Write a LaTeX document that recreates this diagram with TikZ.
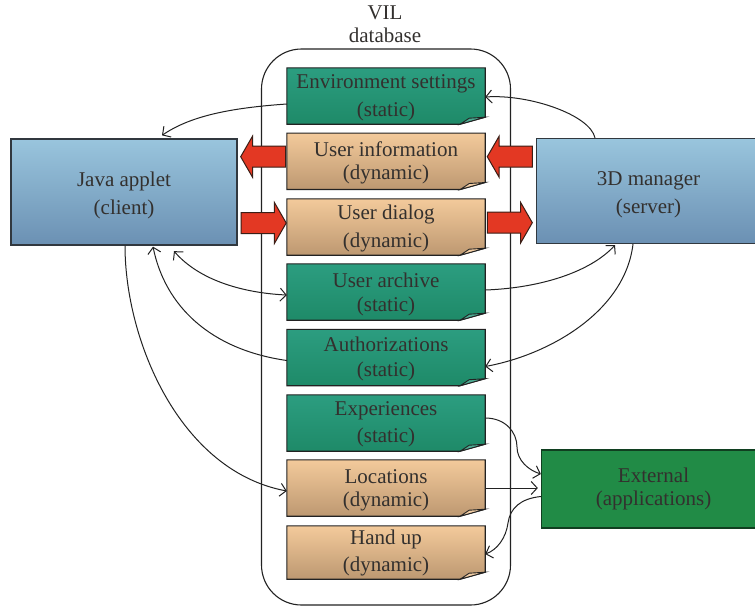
\documentclass[tikz,border=0pt]{standalone}
\usepackage{fontspec}
\setmainfont{Liberation Serif}
\usetikzlibrary{arrows.meta,shapes.arrows,backgrounds}
\definecolor{inkc}{HTML}{33302E}
\definecolor{edgec}{HTML}{222222}
\definecolor{greentop}{HTML}{2C9D80}
\definecolor{greenbot}{HTML}{1E8A68}
\definecolor{orangetop}{HTML}{F3CA9B}
\definecolor{orangebot}{HTML}{BD9871}
\definecolor{bluetop}{HTML}{99C5DD}
\definecolor{bluebot}{HTML}{6B90B3}
\definecolor{extfill}{HTML}{218B46}
\definecolor{extedge}{HTML}{103F20}
\definecolor{redfill}{HTML}{E33823}
\definecolor{rededge}{HTML}{3A1E16}
\newcommand\lift[1]{\rule{0pt}{#1pt}}
\tikzset{
  lead/.style={font=\fontsize{21}{#1}\selectfont},
  txt/.style={text=inkc,align=center,inner sep=0pt},
  note/.style={txt,minimum width=198pt,minimum height=56pt},
  greenpaper/.style={draw=edgec,line width=1.1pt,top color=greentop,bottom color=greenbot},
  orangepaper/.style={draw=edgec,line width=1.1pt,top color=orangetop,bottom color=orangebot},
  greenfold/.style={draw=edgec,line width=.9pt,fill=greentop!85!white},
  orangefold/.style={draw=edgec,line width=.9pt,fill=orangetop!90!white},
  bluebox/.style={txt,draw=edgec!80!bluebot,line width=1.3pt,top color=bluetop,bottom color=bluebot},
  extbox/.style={txt,draw=extedge,line width=1.3pt,fill=extfill},
  bigarrow/.style={single arrow,draw=rededge,line width=1pt,fill=redfill,inner sep=10pt,
    minimum width=40pt,minimum height=45pt,single arrow head extend=10pt,
    single arrow tip angle=120,outer sep=0pt},
  link/.style={draw=edgec,line width=1pt,-{Straight Barb[length=6pt,width=13pt]}},
  dlink/.style={draw=edgec,line width=1pt,{Straight Barb[length=6pt,width=13pt]}-{Straight Barb[length=6pt,width=13pt]}},
  outer/.style={draw=edgec,line width=1.1pt,fill=white,rounded corners=40pt}
}
\begin{document}
\begin{tikzpicture}[x=1pt,y=-1pt]
\useasboundingbox (0,0) rectangle (755,606);
% database nodes
\node[txt,lead=23] (title) at (385,24.5) {VIL\\database};
\node[note,lead=28] (env)  at (386,96)    {\lift{18}Environment settings\\(static)};
\node[note,lead=23] (info) at (386,161.3) {\lift{18}User information\\(dynamic)};
\node[note,lead=28] (dial) at (386,227)   {\lift{18}User dialog\\(dynamic)};
\node[note,lead=24] (arch) at (386,292)   {\lift{19}User archive\\(static)};
\node[note,lead=25] (auth) at (386,357.5) {\lift{18}Authorizations\\(static)};
\node[note,lead=27] (expe) at (386,423)   {\lift{16}Experiences\\(static)};
\node[note,lead=23] (loca) at (386,488)   {\lift{18}Locations\\(dynamic)};
\node[note,lead=27,minimum height=53pt] (hand) at (386,552.5) {Hand up\\(dynamic)};
% outer actors
\node[bluebox,lead=28,minimum width=226pt,minimum height=106pt] (java) at (124,192) {\lift{22}Java applet\\(client)};
\node[bluebox,lead=28,minimum width=224pt,minimum height=105pt] (mgr) at (648.5,191) {\lift{22}3D manager\\(server)};
\node[extbox,lead=23,minimum width=224pt,minimum height=78pt] (ext) at (653.5,489) {External\\(applications)};
% papers under the texts
\begin{pgfonlayer}{background}
\node[outer,minimum width=249pt,minimum height=556pt] (db) at (386,327) {};
\foreach \n/\s/\f in {env/greenpaper/greenfold,info/orangepaper/orangefold,dial/orangepaper/orangefold,
  arch/greenpaper/greenfold,auth/greenpaper/greenfold,expe/greenpaper/greenfold,
  loca/orangepaper/orangefold,hand/orangepaper/orangefold}{
  \draw[\s] (\n.north west) -- (\n.north east) -- ([yshift=7]\n.south east)
     -- ([xshift=-25]\n.south east) -- (\n.south west) -- cycle;
  \draw[\f] ([xshift=-25]\n.south east) -- ([xshift=-16,yshift=6]\n.south east)
     -- ([yshift=7]\n.south east) -- cycle;
}
\end{pgfonlayer}
% connectors
\draw[link] ([yshift=-8]env.west) .. controls +(-58,4) and +(28,-19) .. ([xshift=38,yshift=3]java.north);
\draw[link] ([xshift=-53.5,yshift=0]mgr.north) .. controls +(-5,-23) and +(44,-3) .. ([yshift=-1]env.east);
\draw[dlink] ([xshift=50,yshift=-5.5]java.south) .. controls +(26,30) and +(-42,-2) .. ([yshift=-3]arch.west);
\draw[link] ([yshift=-3]auth.west) .. controls +(-77,-11) and +(12,59) .. ([xshift=29,yshift=-1]java.south);
\draw[link] ([xshift=1]java.south) .. controls +(0,95) and +(-107,-20) .. ([yshift=-3]loca.west);
\draw[link] ([yshift=2]arch.east) .. controls +(55,-2) and +(-25,27) .. ([xshift=-33.5,yshift=-1]mgr.south);
\draw[link] ([xshift=-15.5]mgr.south) .. controls +(-8,67) and +(65,-12) .. ([yshift=-9]auth.east);
\draw[link] ([yshift=5]expe.east) .. controls +(20,0) and (517,432) .. (517,447) .. controls (517,460) and (528,470) .. ([yshift=15]ext.west);
\draw[link] (loca.east) -- ([xshift=-3,yshift=1]ext.west);
\draw[link] ([yshift=-7.5]ext.west) .. controls +(-20,2) and (510,508) .. (508,523) .. controls (506,538) and (497,550) .. ([yshift=-1.5]hand.east);
% block arrows
\node[bigarrow,shape border rotate=180] (a1) at (266.2,156.7) {};
\node[bigarrow] (a2) at (260.7,223) {};
\node[bigarrow,shape border rotate=180] (a3) at (512.8,156.7) {};
\node[bigarrow] (a4) at (506.8,222.7) {};
\end{tikzpicture}
\end{document}
